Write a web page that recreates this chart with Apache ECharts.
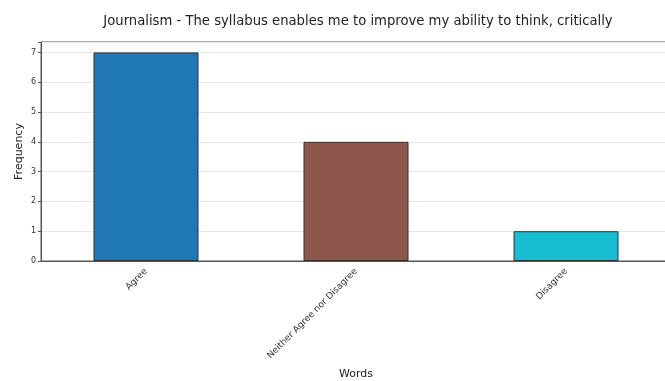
<!DOCTYPE html>
<html><head><meta charset="utf-8">
<script src="https://cdn.jsdelivr.net/npm/echarts@6/dist/echarts.min.js"></script>
<style>html,body{margin:0;padding:0;background:#fff;overflow:hidden}#c{width:672px;height:381px}</style>
</head><body><div id="c"></div>
<script>
var categories = ["Agree", "Neither Agree nor Disagree", "Disagree"];
var frequencies = [7, 4, 1];
var barColors = ["#1f77b4", "#8c564b", "#17becf"];
var yTicks = [0, 1, 2, 3, 4, 5, 6, 7];

var chart = echarts.init(document.getElementById('c'));
chart.setOption({
  animation: false,
  title: {
    text: "Journalism - The syllabus enables me to improve my ability to think, critically",
    left: 353, top: 10, textAlign: 'center',
    textStyle: {fontFamily: 'DejaVu Sans', fontSize: 13.2, fontWeight: 'normal', color: '#222'}
  },
  grid: {left: 41, top: 42, right: 1, bottom: 120, outerBoundsMode: 'none', containLabel: false,
    show: true, borderColor: '#555', borderWidth: 1},
  xAxis: {
    type: 'category', data: categories,
    name: 'Words', nameLocation: 'middle', nameGap: 108, nameMoveOverlap: false,
    nameTextStyle: {fontFamily: 'DejaVu Sans', fontSize: 11, color: '#222'},
    axisLine: {lineStyle: {color: '#555'}},
    axisTick: {alignWithLabel: true, lineStyle: {color: '#555'}, length: 3},
    axisLabel: {rotate: 45, fontFamily: 'DejaVu Sans', fontSize: 9, color: '#333', margin: 9, interval: 0}
  },
  yAxis: {
    type: 'value', min: 0, max: 7.35, interval: 1,
    name: 'Frequency', nameLocation: 'middle', nameGap: 16, nameMoveOverlap: false,
    nameTextStyle: {fontFamily: 'DejaVu Sans', fontSize: 11, color: '#222'},
    axisLine: {show: true, lineStyle: {color: '#555'}},
    axisTick: {show: true, length: 3, lineStyle: {color: '#555'}},
    axisLabel: {fontFamily: 'DejaVu Sans', fontSize: 8, color: '#333', margin: 5,
      formatter: function (v) { return yTicks.indexOf(v) >= 0 ? String(v) : ''; }},
    splitLine: {show: true, lineStyle: {color: '#e6e6e6', width: 1}}
  },
  series: [{
    type: 'bar', barWidth: '50%',
    data: frequencies.map(function (v, i) {
      return {value: v, itemStyle: {color: barColors[i], borderColor: '#333', borderWidth: 1}};
    })
  }]
});
</script></body></html>
